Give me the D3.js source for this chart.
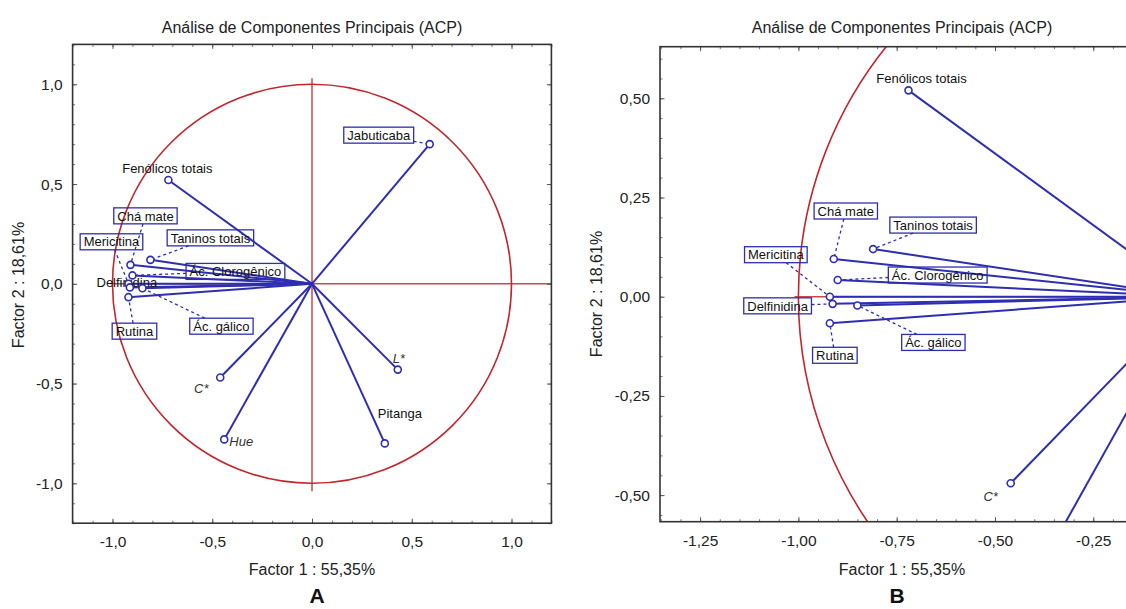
<!DOCTYPE html>
<html>
<head>
<meta charset="utf-8">
<script src="https://cdn.jsdelivr.net/npm/d3@7"></script>
<style>
  body { margin: 0; background: #fff; }
  text { font-family: "Liberation Sans", Arial, sans-serif; }
</style>
</head>
<body>
<script>
// variable loadings on the two first factors
const variables = ["Jabuticaba", "Fenólicos totais", "Chá mate", "Mericitina", "Taninos totais",
  "Ác. Clorogênico", "Delfinidina", "Ác. gálico", "Rutina", "C*", "Hue", "L*", "Pitanga"];
const factor1 = [0.59, -0.72, -0.91, -0.92, -0.81, -0.90, -0.913, -0.85, -0.92, -0.46, -0.44, 0.43, 0.365];
const factor2 = [0.70, 0.52, 0.095, 0.0, 0.12, 0.042, -0.018, -0.022, -0.067, -0.47, -0.78, -0.43, -0.80];

const chartTitle = "Análise de Componentes Principais (ACP)";
const xTitle = "Factor 1 : 55,35%";
const yTitle = "Factor 2 : 18,61%";
const ticksA = [-1, -0.5, 0, 0.5, 1];
const ticksBx = [-1.25, -1, -0.75, -0.5, -0.25];
const ticksBy = [-0.5, -0.25, 0, 0.25, 0.5];

// label placement (pixel offset of label centre from the point), box / italic flags
const labelsA = {
  "Jabuticaba": [-51, -9, true],
  "Fenólicos totais": [-1, -12, false],
  "Chá mate": [15, -49, true],
  "Mericitina": [-17, -42, true],
  "Taninos totais": [60, -22, true],
  "Ác. Clorogênico": [103, -4, true],
  "Delfinidina": [-3, -5, false],
  "Ác. gálico": [79, 38, true],
  "Rutina": [6, 34, true],
  "C*": [-19, 11, false, true],
  "Hue": [17, 2, false, true],
  "L*": [1, -11, false, true],
  "Pitanga": [15, -30, false]
};
const labelsB = {
  "Jabuticaba": [-51, -9, true],
  "Fenólicos totais": [13, -12, false],
  "Chá mate": [12, -48, true],
  "Mericitina": [-54, -42, true],
  "Taninos totais": [60, -24, true],
  "Ác. Clorogênico": [100, -5, true],
  "Delfinidina": [-55, 2, true],
  "Ác. gálico": [76, 37, true],
  "Rutina": [5, 32, true],
  "C*": [-20, 13, false, true],
  "Hue": [17, 2, false, true],
  "L*": [1, -11, false, true],
  "Pitanga": [15, -30, false]
};

const blue = "#2e2eb0", red = "#c1272d", redAxis = "#c84a4a";
const W = 1126, H = 609;

const svg = d3.select("body").append("svg")
  .attr("width", W).attr("height", H);

const data = variables.map((v, i) => ({ name: v, f1: factor1[i], f2: factor2[i] }));

function fmt(dec) {
  return v => (v < -1e-9 ? "-" : "") + Math.abs(v).toFixed(dec).replace(".", ",");
}

function panel(opt) {
  const x = d3.scaleLinear().domain(opt.xd).range(opt.xr);
  const y = d3.scaleLinear().domain(opt.yd).range(opt.yr);
  const g = svg.append("g");
  const [x0, x1] = opt.xr, [y1, y0] = opt.yr;
  const visibleRight = Math.min(x1, W);

  g.append("clipPath").attr("id", opt.id)
    .append("rect").attr("x", x0).attr("y", y0).attr("width", x1 - x0).attr("height", y1 - y0);

  const plot = g.append("g").attr("clip-path", "url(#" + opt.id + ")");

  // red reference cross and unit circle
  plot.append("line")
    .attr("x1", x(-1.01)).attr("x2", x(opt.xd[1])).attr("y1", y(0)).attr("y2", y(0))
    .attr("stroke", redAxis).attr("stroke-width", 1.5);
  plot.append("line")
    .attr("x1", x(0)).attr("x2", x(0)).attr("y1", y(1.03)).attr("y2", y(-1.04))
    .attr("stroke", redAxis).attr("stroke-width", 1.5);
  plot.append("ellipse")
    .attr("cx", x(0)).attr("cy", y(0))
    .attr("rx", x(1) - x(0)).attr("ry", y(0) - y(1))
    .attr("fill", "none").attr("stroke", red).attr("stroke-width", 1.6);

  // vectors
  plot.selectAll("line.vec").data(data).join("line").attr("class", "vec")
    .attr("x1", x(0)).attr("y1", y(0))
    .attr("x2", d => x(d.f1)).attr("y2", d => y(d.f2))
    .attr("stroke", blue).attr("stroke-width", 2);

  // labels, only for points that fall inside the visible frame
  const inside = data.filter(d => x(d.f1) >= x0 && x(d.f1) <= visibleRight && y(d.f2) >= y0 && y(d.f2) <= y1);
  inside.forEach(d => {
    const lab = opt.labels[d.name];
    const px = x(d.f1), py = y(d.f2);
    const cx = px + lab[0], cy = py + lab[1];
    const t = plot.append("text")
      .attr("x", cx).attr("y", cy).attr("dy", "0.36em")
      .attr("text-anchor", "middle")
      .attr("font-size", 13)
      .attr("font-style", lab[3] ? "italic" : "normal")
      .attr("fill", lab[3] ? "#333" : "#111")
      .text(d.name);
    if (lab[2]) {
      const w = t.node().getComputedTextLength() + 7, h = 16;
      plot.insert("rect", "text")
        .attr("x", cx - w / 2).attr("y", cy - h / 2)
        .attr("width", w).attr("height", h)
        .attr("fill", "none").attr("stroke", blue).attr("stroke-width", 1.3);
      // dashed leader from box edge to point
      const dx = px - cx, dy = py - cy, len = Math.hypot(dx, dy);
      const k = Math.min(dx ? (w / 2) / Math.abs(dx) : 1e9, dy ? (h / 2) / Math.abs(dy) : 1e9);
      plot.insert("line", "rect")
        .attr("x1", cx + dx * k).attr("y1", cy + dy * k)
        .attr("x2", px - dx / len * 4).attr("y2", py - dy / len * 4)
        .attr("stroke", blue).attr("stroke-width", 1.3).attr("stroke-dasharray", "3,3");
    }
  });

  // point markers
  plot.selectAll("circle.pt").data(data).join("circle").attr("class", "pt")
    .attr("cx", d => x(d.f1)).attr("cy", d => y(d.f2)).attr("r", 3.5)
    .attr("fill", "#fff").attr("stroke", blue).attr("stroke-width", 1.6);

  // inward ticks on all four sides
  const axes = [
    [d3.axisBottom(x), "translate(0," + y1 + ")", opt.minorX, opt.tx],
    [d3.axisTop(x), "translate(0," + y0 + ")", opt.minorX, opt.tx],
    [d3.axisLeft(y), "translate(" + x0 + ",0)", opt.minorY, opt.ty],
    [d3.axisRight(y), "translate(" + x1 + ",0)", opt.minorY, opt.ty]
  ];
  axes.forEach(([ax, tr, minor, major]) => {
    const a1 = g.append("g").attr("transform", tr).attr("color", "#777")
      .call(ax.tickValues(minor).tickSize(-2.5).tickFormat(""));
    a1.select(".domain").remove();
    a1.selectAll("text").remove();
    const a2 = g.append("g").attr("transform", tr).attr("color", "#555")
      .call(ax.tickValues(major).tickSize(-4.5));
    a2.select(".domain").remove();
    a2.selectAll("text").remove();
  });

  const xa = g.append("g").attr("transform", "translate(0," + y1 + ")")
    .call(d3.axisBottom(x).tickValues(opt.tx).tickSize(0).tickPadding(13).tickFormat(fmt(opt.dec)));
  xa.select(".domain").remove();
  xa.selectAll("text").attr("font-size", 15.5).attr("fill", "#222")
    .attr("font-family", "Liberation Sans, Arial, sans-serif");
  const ya = g.append("g").attr("transform", "translate(" + x0 + ",0)")
    .call(d3.axisLeft(y).tickValues(opt.ty).tickSize(0).tickPadding(10).tickFormat(fmt(opt.dec)));
  ya.select(".domain").remove();
  ya.selectAll("text").attr("font-size", 15.5).attr("fill", "#222")
    .attr("font-family", "Liberation Sans, Arial, sans-serif");

  // frame
  g.append("rect").attr("x", x0).attr("y", y0).attr("width", x1 - x0).attr("height", y1 - y0)
    .attr("fill", "none").attr("stroke", "#333").attr("stroke-width", 1.6);

  // titles
  const mid = (x0 + x1) / 2;
  g.append("text").attr("x", mid).attr("y", 33).attr("text-anchor", "middle")
    .attr("font-size", 16).attr("fill", "#222").text(chartTitle);
  g.append("text").attr("x", mid).attr("y", 575).attr("text-anchor", "middle")
    .attr("font-size", 16).attr("fill", "#222").text(xTitle);
  g.append("text").attr("transform", "translate(" + opt.yTitleX + "," + opt.yTitleY + ") rotate(-90)")
    .attr("text-anchor", "middle").attr("font-size", 16).attr("fill", "#222").text(yTitle);
  g.append("text").attr("x", opt.letterX).attr("y", 603).attr("text-anchor", "middle")
    .attr("font-size", 21).attr("font-weight", "bold").attr("fill", "#111").text(opt.letter);
}

panel({
  id: "clipA", letter: "A", letterX: 317,
  xd: [-1.2, 1.2], xr: [72.6, 551.4],
  yd: [-1.2, 1.2], yr: [523.2, 44.4],
  tx: ticksA, ty: ticksA, dec: 1,
  minorX: d3.range(-12, 13).map(i => i / 10),
  minorY: d3.range(-12, 13).map(i => i / 10),
  labels: labelsA, yTitleX: 24, yTitleY: 285
});

panel({
  id: "clipB", letter: "B", letterX: 897,
  xd: [-1.352, -0.121], xr: [660, 1144],
  yd: [-0.567, 0.630], yr: [521.7, 46.7],
  tx: ticksBx, ty: ticksBy, dec: 2,
  minorX: d3.range(-27, -2).map(i => i * 0.05),
  minorY: d3.range(-11, 13).map(i => i * 0.05),
  labels: labelsB, yTitleX: 602, yTitleY: 294
});
</script>
</body>
</html>
